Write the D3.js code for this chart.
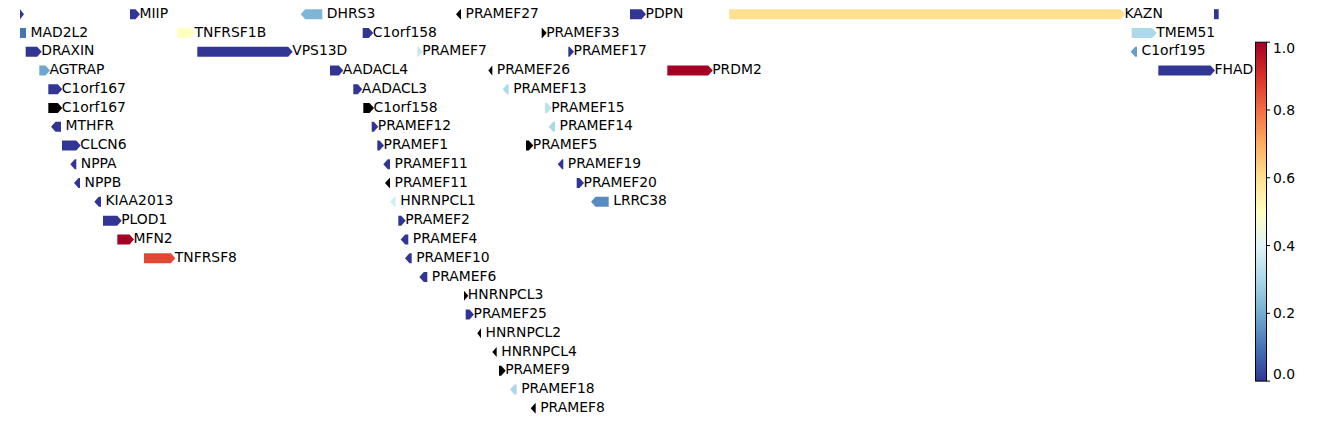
<!DOCTYPE html>
<html>
<head>
<meta charset="utf-8">
<script src="https://cdn.jsdelivr.net/npm/d3@7"></script>
<style>
  html, body { margin: 0; padding: 0; background: #fff; }
  svg { display: block; }
  text { font-family: "DejaVu Sans", sans-serif; }
</style>
</head>
<body>
<svg id="chart" width="1338" height="423"></svg>
<script>
// ---- data (positions in kb relative to track start) ----
const geneNames = ["", "MIIP", "DHRS3", "PRAMEF27", "PDPN", "KAZN", "",
  "MAD2L2", "TNFRSF1B", "C1orf158", "PRAMEF33", "TMEM51",
  "DRAXIN", "VPS13D", "PRAMEF7", "PRAMEF17", "C1orf195",
  "AGTRAP", "AADACL4", "PRAMEF26", "PRDM2", "FHAD1",
  "C1orf167", "AADACL3", "PRAMEF13",
  "C1orf167", "C1orf158", "PRAMEF15",
  "MTHFR", "PRAMEF12", "PRAMEF14",
  "CLCN6", "PRAMEF1", "PRAMEF5",
  "NPPA", "PRAMEF11", "PRAMEF19",
  "NPPB", "PRAMEF11", "PRAMEF20",
  "KIAA2013", "HNRNPCL1", "LRRC38",
  "PLOD1", "PRAMEF2",
  "MFN2", "PRAMEF4",
  "TNFRSF8", "PRAMEF10",
  "PRAMEF6", "HNRNPCL3", "PRAMEF25", "HNRNPCL2", "HNRNPCL4",
  "PRAMEF9", "PRAMEF18", "PRAMEF8"];
const geneStart = [0, 110, 280.7, 436, 610, 709.3, 1194,
  0, 157.3, 342.7, 521.7, 1111.7,
  5.7, 177.3, 397.3, 548.3, 1110.7,
  19.3, 310, 468.3, 647.3, 1138.3,
  28.3, 333.3, 482.7,
  28.3, 343.3, 525,
  31, 351.7, 528.7,
  42, 357.3, 506,
  50.3, 363.3, 537.7,
  54, 365, 556.7,
  74.3, 370, 571,
  83, 378.3,
  97.3, 380.7,
  124, 385,
  399.3, 444, 445.7, 457.3, 472.3,
  479, 490, 510.7];
const geneEnd = [4, 120, 302.3, 441, 626, 1105, 1198.7,
  6, 175, 353.3, 526.7, 1136.7,
  21.7, 272.7, 402.7, 554, 1117,
  30, 323.3, 472.3, 692.7, 1195,
  42.3, 342.3, 488.7,
  42.3, 354, 531.7,
  41, 358.3, 535,
  60.7, 364, 513.3,
  56.3, 370, 543.3,
  60, 370, 564,
  81, 375.7, 588.7,
  101.7, 385.7,
  114, 388.3,
  155.3, 391.7,
  407.3, 448.3, 454, 461, 476.7,
  485.7, 496.7, 515.7];
const geneStrand = ["+", "+", "-", "-", "+", "+", ".",
  ".", "+", "+", "+", "+",
  "+", "+", "+", "+", "-",
  "+", "+", "-", "+", "+",
  "+", "+", "-",
  "+", "+", "+",
  "-", "+", "-",
  "+", "+", "+",
  "-", "-", "-",
  "-", "-", "+",
  "-", "-", "-",
  "+", "+",
  "+", "-",
  "+", "-",
  "-", "+", "+", "-", "-",
  "+", "-", "-"];
const geneRow = [0, 0, 0, 0, 0, 0, 0,
  1, 1, 1, 1, 1,
  2, 2, 2, 2, 2,
  3, 3, 3, 3, 3,
  4, 4, 4,
  5, 5, 5,
  6, 6, 6,
  7, 7, 7,
  8, 8, 8,
  9, 9, 9,
  10, 10, 10,
  11, 11,
  12, 12,
  13, 13,
  14, 15, 16, 17, 18,
  19, 20, 21];
// null = no score (drawn black)
const geneScore = [0, 0, 0.22, null, 0, 0.6, 0,
  0.1, 0.5, 0, null, 0.3,
  0, 0, 0.35, 0, 0.17,
  0.19, 0, null, 1, 0,
  0, 0, 0.3,
  null, null, 0.33,
  0, 0, 0.3,
  0, 0, null,
  0, 0, 0,
  0, null, 0,
  0, 0.38, 0.14,
  0, 0,
  1, 0,
  0.86, 0,
  0, null, 0, null, null,
  null, 0.3, null];
const colorTicks = [0, 0.2, 0.4, 0.6, 0.8, 1.0];
const cmapColors = ["#313695", "#4575b4", "#74add1", "#abd9e9", "#e0f3f8", "#ffffbf",
  "#fee090", "#fdae61", "#f46d43", "#d73027", "#a50026"];

// ---- layout ----
const FONT = "13.9px";
const svg = d3.select("#chart");
const x = d3.scaleLinear().domain([0, 1233]).range([20, 1253]);
const y = d3.scaleLinear().domain([0, 21]).range([14.2, 408.3]);
const color = d3.scaleLinear()
  .domain(cmapColors.map((c, i) => i / (cmapColors.length - 1)))
  .range(cmapColors)
  .interpolate(d3.interpolateRgb);
const H = 10, HEAD = 4.5;

const genes = geneNames.map((n, i) => ({
  name: n, start: geneStart[i], end: geneEnd[i], strand: geneStrand[i],
  row: geneRow[i], score: geneScore[i]
}));

svg.append("defs").append("clipPath").attr("id", "trackClip")
  .append("rect").attr("x", 0).attr("y", 0).attr("width", 1253).attr("height", 423);

const track = svg.append("g").attr("clip-path", "url(#trackClip)");

function arrowPath(d) {
  const x0 = x(d.start), x1 = x(d.end), yc = y(d.row), h = H / 2;
  const len = x1 - x0;
  if (d.strand === ".") {
    return `M${x0},${yc - h}L${x1},${yc - h}L${x1},${yc + h}L${x0},${yc + h}Z`;
  }
  const hd = Math.min(HEAD, len);
  if (d.strand === "+") {
    return `M${x0},${yc - h}L${x1 - hd},${yc - h}L${x1},${yc}L${x1 - hd},${yc + h}L${x0},${yc + h}Z`;
  }
  return `M${x1},${yc - h}L${x0 + hd},${yc - h}L${x0},${yc}L${x0 + hd},${yc + h}L${x1},${yc + h}Z`;
}

track.selectAll("path.gene").data(genes).join("path")
  .attr("class", "gene")
  .attr("d", arrowPath)
  .attr("fill", d => d.score === null ? "#000000" : color(d.score));

track.selectAll("text.label").data(genes.filter(d => d.name !== "")).join("text")
  .attr("class", "label")
  .attr("x", d => d.strand === "+" ? x(d.end) - 0.5 : x(d.end) + 4.5)
  .attr("y", d => y(d.row) + 3.6)
  .attr("font-size", FONT)
  .attr("fill", "#000")
  .text(d => d.name);

// ---- colorbar ----
const cbX = 1255.5, cbW = 11;
const cy = d3.scaleLinear().domain([0, 1]).range([381.1, 42.2]);
const grad = svg.select("defs").append("linearGradient")
  .attr("id", "cbGrad").attr("x1", 0).attr("y1", 1).attr("x2", 0).attr("y2", 0);
grad.selectAll("stop").data(cmapColors).join("stop")
  .attr("offset", (c, i) => i / (cmapColors.length - 1))
  .attr("stop-color", c => c);
svg.append("rect")
  .attr("x", cbX).attr("y", cy(1)).attr("width", cbW).attr("height", cy(0) - cy(1))
  .attr("fill", "url(#cbGrad)").attr("stroke", "#000").attr("stroke-width", 1);

const cb = svg.append("g");
cb.selectAll("line").data(colorTicks).join("line")
  .attr("x1", cbX + cbW).attr("x2", cbX + cbW + 3.5)
  .attr("y1", d => cy(d)).attr("y2", d => cy(d))
  .attr("stroke", "#000").attr("stroke-width", 1);
cb.selectAll("text").data(colorTicks).join("text")
  .attr("x", cbX + cbW + 6.5)
  .attr("y", d => d === 1 ? cy(d) + 10.5 : (d === 0 ? cy(d) - 2.6 : cy(d) + 5.1))
  .attr("font-size", FONT)
  .attr("fill", "#000")
  .text(d => d.toFixed(1));
</script>
</body>
</html>
